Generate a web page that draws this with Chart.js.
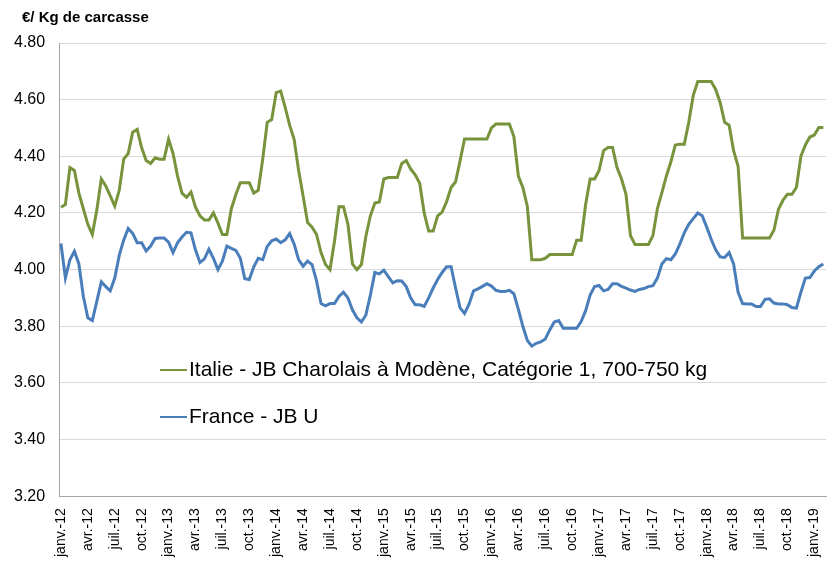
<!DOCTYPE html>
<html><head><meta charset="utf-8">
<script src="https://cdn.jsdelivr.net/npm/chart.js@4"></script>
<style>html,body{margin:0;padding:0;background:#fff}#wrap{width:827px;height:565px;position:relative}</style>
</head><body><div id="wrap"><canvas id="c" width="827" height="565"></canvas></div>
<script>
const unitTitle = '€/ Kg de carcasse';
const seriesNames = ['Italie - JB Charolais à Modène, Catégorie 1, 700-750 kg', 'France - JB U'];
const tickLabels = ['janv.-12','avr.-12','juil.-12','oct.-12','janv.-13','avr.-13','juil.-13','oct.-13','janv.-14','avr.-14','juil.-14','oct.-14','janv.-15','avr.-15','juil.-15','oct.-15','janv.-16','avr.-16','juil.-16','oct.-16','janv.-17','avr.-17','juil.-17','oct.-17','janv.-18','avr.-18','juil.-18','oct.-18','janv.-19'];
const yTicks = [3.20, 3.40, 3.60, 3.80, 4.00, 4.20, 4.40, 4.60, 4.80];

// half-month samples from janv.-12
const italie = [
4.22,4.23,4.36,4.35,4.27,4.215,4.16,4.124,4.21,4.32,
4.295,4.26,4.224,4.28,4.39,4.41,4.485,4.495,4.43,4.385,
4.375,4.395,4.39,4.39,4.46,4.41,4.33,4.27,4.255,4.274,
4.22,4.19,4.175,4.175,4.20,4.165,4.124,4.124,4.215,4.265,
4.307,4.307,4.307,4.27,4.28,4.39,4.52,4.53,4.625,4.63,
4.573,4.51,4.46,4.35,4.26,4.166,4.15,4.124,4.06,4.018,
4.00,4.10,4.222,4.222,4.16,4.02,4.00,4.018,4.118,4.19,
4.235,4.239,4.32,4.325,4.325,4.325,4.375,4.385,4.355,4.335,
4.305,4.20,4.136,4.136,4.19,4.203,4.24,4.29,4.31,4.384,
4.461,4.461,4.461,4.461,4.461,4.461,4.50,4.514,4.514,4.514,
4.514,4.47,4.33,4.29,4.223,4.035,4.035,4.035,4.04,4.053,
4.053,4.053,4.053,4.053,4.053,4.104,4.104,4.23,4.32,4.32,
4.35,4.42,4.431,4.431,4.36,4.32,4.266,4.12,4.089,4.089,
4.089,4.089,4.12,4.215,4.272,4.33,4.38,4.44,4.443,4.443,
4.52,4.615,4.664,4.664,4.664,4.664,4.636,4.59,4.52,4.51,
4.42,4.365,4.112,4.112,4.112,4.112,4.112,4.112,4.112,4.14,
4.213,4.245,4.266,4.266,4.29,4.40,4.44,4.468,4.475,4.502,
4.502
];
const france = [
4.092,3.97,4.035,4.065,4.02,3.905,3.83,3.82,3.888,3.957,
3.94,3.925,3.97,4.05,4.105,4.145,4.128,4.095,4.095,4.066,
4.083,4.11,4.112,4.112,4.097,4.06,4.095,4.115,4.132,4.13,
4.07,4.025,4.038,4.072,4.04,4.00,4.03,4.083,4.075,4.068,
4.04,3.968,3.965,4.01,4.04,4.035,4.082,4.102,4.108,4.095,
4.105,4.127,4.09,4.035,4.012,4.03,4.018,3.96,3.88,3.872,
3.88,3.88,3.905,3.92,3.90,3.858,3.83,3.815,3.84,3.91,
3.99,3.985,3.998,3.975,3.953,3.961,3.96,3.94,3.90,3.876,
3.876,3.87,3.90,3.935,3.965,3.99,4.01,4.01,3.935,3.865,
3.845,3.878,3.925,3.932,3.941,3.95,3.942,3.927,3.923,3.923,
3.927,3.915,3.86,3.80,3.75,3.73,3.74,3.745,3.755,3.787,
3.815,3.82,3.793,3.793,3.793,3.793,3.817,3.855,3.91,3.94,
3.944,3.925,3.93,3.95,3.95,3.941,3.935,3.928,3.923,3.93,
3.933,3.94,3.943,3.97,4.02,4.039,4.035,4.055,4.09,4.13,
4.16,4.18,4.20,4.19,4.15,4.107,4.07,4.045,4.043,4.06,
4.02,3.92,3.88,3.879,3.879,3.87,3.87,3.895,3.897,3.882,
3.879,3.879,3.876,3.866,3.864,3.92,3.97,3.972,3.995,4.01,
4.02
];
const monthPos = italie.map((_, i) => i * 0.5);

const FONT = '"Liberation Sans", Arial, sans-serif';
const overlay = {
  id: 'overlay',
  afterDraw(chart) {
    const ctx = chart.ctx;
    ctx.save();
    ctx.fillStyle = '#000';
    ctx.textBaseline = 'middle';
    ctx.textAlign = 'left';
    ctx.font = 'bold 15px ' + FONT;
    ctx.fillText(unitTitle, 22, 18);
    const legendY = [370, 417];
    ctx.font = '21px ' + FONT;
    chart.data.datasets.forEach((ds, i) => {
      const y = legendY[i];
      ctx.strokeStyle = ds.borderColor;
      ctx.lineWidth = 2;
      ctx.beginPath(); ctx.moveTo(160, y); ctx.lineTo(187, y); ctx.stroke();
      ctx.fillStyle = '#000';
      ctx.fillText(ds.label, 189, y);
    });
    ctx.restore();
  }
};

new Chart(document.getElementById('c'), {
  type: 'line',
  data: {
    datasets: [
      { label: seriesNames[0], data: monthPos.map((m, i) => ({ x: m, y: italie[i] })), borderColor: '#77933C', borderWidth: 3, pointRadius: 0, tension: 0 },
      { label: seriesNames[1], data: monthPos.map((m, i) => ({ x: m, y: france[i] })), borderColor: '#4A7EBB', borderWidth: 3, pointRadius: 0, tension: 0 }
    ]
  },
  options: {
    responsive: false,
    animation: false,
    devicePixelRatio: 1,
    layout: { padding: { top: 43, right: 1, left: 0, bottom: -4 } },
    plugins: { legend: { display: false }, tooltip: { enabled: false }, title: { display: false } },
    scales: {
      x: {
        type: 'linear', min: -0.2, max: 85.3,
        afterBuildTicks(scale) { scale.ticks = tickLabels.map((_, i) => ({ value: i * 3 })); },
        afterFit(scale) { scale.paddingLeft = 0; scale.paddingRight = 0; },
        ticks: { autoSkip: false, maxRotation: 90, minRotation: 90, padding: 12, color: '#000', font: { family: FONT, size: 14 },
          callback(v) { return tickLabels[Math.round(v / 3)]; } },
        grid: { display: false, drawTicks: false },
        border: { display: true, color: '#A6A6A6', width: 1 }
      },
      y: {
        min: 3.2, max: 4.8,
        afterBuildTicks(scale) { scale.ticks = yTicks.map(v => ({ value: v })); },
        ticks: { padding: 14, color: '#000', font: { family: FONT, size: 16 }, callback(v) { return v.toFixed(2); } },
        grid: { color: '#D9D9D9', drawTicks: false },
        border: { display: true, color: '#A6A6A6', width: 1 }
      }
    }
  },
  plugins: [overlay]
});
</script>
</body></html>
